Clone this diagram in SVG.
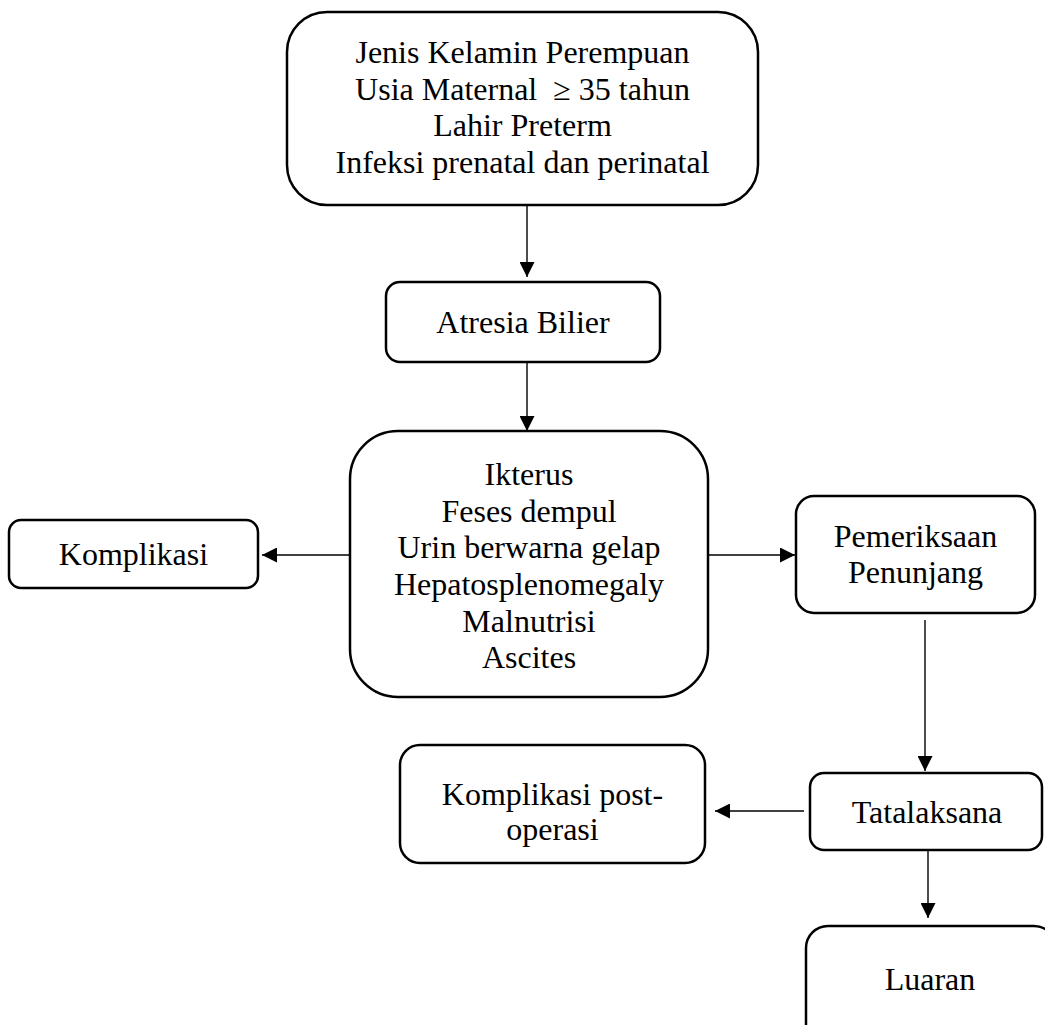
<svg xmlns="http://www.w3.org/2000/svg" width="1045" height="1025" viewBox="0 0 1045 1025">
<style>
.box{fill:#fff;stroke:#000;stroke-width:2.5}
.t{font-family:"Liberation Serif","Times New Roman",serif;font-size:32px;fill:#000;text-anchor:middle;white-space:pre}
.c{stroke:#000;stroke-width:1.4;fill:none}
</style>
<defs>
<marker id="ah" viewBox="0 0 15 15" refX="15" refY="7.5" markerWidth="15" markerHeight="15" markerUnits="userSpaceOnUse" orient="auto">
<path d="M0,0 L15,7.5 L0,15 z" fill="#000"/>
</marker>
</defs>
<rect width="1045" height="1025" fill="#fff"/>
<g id="connectors">
<line class="c" x1="527" y1="205" x2="527" y2="277" marker-end="url(#ah)"/>
<line class="c" x1="527" y1="362" x2="527" y2="431" marker-end="url(#ah)"/>
<line class="c" x1="350" y1="555" x2="262" y2="555" marker-end="url(#ah)"/>
<line class="c" x1="708" y1="555" x2="795" y2="555" marker-end="url(#ah)"/>
<line class="c" x1="925" y1="620" x2="925" y2="771" marker-end="url(#ah)"/>
<line class="c" x1="804" y1="811" x2="715" y2="811" marker-end="url(#ah)"/>
<line class="c" x1="928" y1="850" x2="928" y2="918" marker-end="url(#ah)"/>
</g>
<g id="faktor">
<rect class="box" x="287" y="12" width="471" height="193" rx="40"/>
<text class="t" x="522.5" y="63">Jenis Kelamin Perempuan</text>
<text class="t" x="522.5" y="100">Usia Maternal  ≥ 35 tahun</text>
<text class="t" x="522.5" y="136">Lahir Preterm</text>
<text class="t" x="522.5" y="173">Infeksi prenatal dan perinatal</text>
</g>
<g id="atresia">
<rect class="box" x="386" y="282" width="274" height="80" rx="14"/>
<text class="t" x="523" y="333">Atresia Bilier</text>
</g>
<g id="gejala">
<rect class="box" x="350" y="431" width="358" height="266" rx="48"/>
<text class="t" x="529" y="485">Ikterus</text>
<text class="t" x="529" y="522">Feses dempul</text>
<text class="t" x="529" y="558">Urin berwarna gelap</text>
<text class="t" x="529" y="595">Hepatosplenomegaly</text>
<text class="t" x="529" y="632">Malnutrisi</text>
<text class="t" x="529" y="668">Ascites</text>
</g>
<g id="komplikasi">
<rect class="box" x="9" y="520" width="249" height="68" rx="12"/>
<text class="t" x="133.5" y="565">Komplikasi</text>
</g>
<g id="pemeriksaan">
<rect class="box" x="796" y="496" width="239" height="117" rx="18"/>
<text class="t" x="915.5" y="547">Pemeriksaan</text>
<text class="t" x="915.5" y="583">Penunjang</text>
</g>
<g id="komplikasi-post">
<rect class="box" x="400" y="745" width="305" height="118" rx="20"/>
<text class="t" x="552.5" y="805">Komplikasi post-</text>
<text class="t" x="552.5" y="840">operasi</text>
</g>
<g id="tatalaksana">
<rect class="box" x="810" y="773" width="232" height="77" rx="14"/>
<text class="t" x="927" y="823">Tatalaksana</text>
</g>
<g id="luaran">
<rect class="box" x="806" y="926" width="250" height="130" rx="22"/>
<text class="t" x="930" y="990">Luaran</text>
</g>
</svg>
